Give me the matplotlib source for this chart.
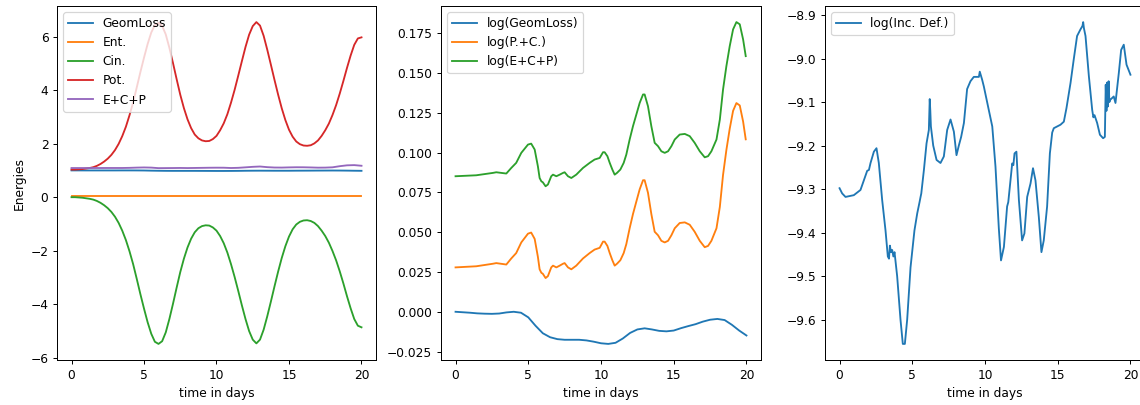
import numpy as np
import matplotlib
matplotlib.use('Agg')
import matplotlib.pyplot as plt

# time grids (days)
t_half = np.linspace(0, 20, 41)
t_quarter = np.linspace(0, 20, 81)

# --- panel 1 : energies ---
geomloss = [1.000, 1.000, 0.999, 0.999, 0.999, 0.999, 0.999, 1.000, 1.000, 0.999,
            0.997, 0.991, 0.987, 0.984, 0.983, 0.983, 0.983, 0.983, 0.982, 0.981,
            0.980, 0.980, 0.981, 0.983, 0.987, 0.989, 0.990, 0.989, 0.988, 0.988,
            0.988, 0.990, 0.991, 0.992, 0.994, 0.995, 0.996, 0.995, 0.992, 0.988,
            0.985]
ent = [0.06, 0.06, 0.06, 0.06, 0.06, 0.06, 0.06, 0.06, 0.06, 0.06,
       0.06, 0.06, 0.06, 0.06, 0.06, 0.06, 0.06, 0.06, 0.06, 0.06,
       0.06, 0.06, 0.06, 0.06, 0.06, 0.06, 0.06, 0.06, 0.06, 0.06,
       0.06, 0.06, 0.06, 0.06, 0.06, 0.06, 0.06, 0.06, 0.06, 0.06,
       0.06]
ecp = [1.089, 1.089, 1.089, 1.090, 1.090, 1.091, 1.091, 1.091, 1.096, 1.105,
       1.111, 1.105, 1.085, 1.087, 1.089, 1.092, 1.088, 1.092, 1.096, 1.100,
       1.102, 1.101, 1.090, 1.097, 1.115, 1.134, 1.146, 1.122, 1.108, 1.106,
       1.113, 1.118, 1.117, 1.111, 1.103, 1.105, 1.116, 1.158, 1.190, 1.198,
       1.174]
cin = [0.00, -0.00, -0.01, -0.02, -0.04, -0.06, -0.09, -0.14, -0.21, -0.30,
       -0.41, -0.55, -0.73, -0.96, -1.25, -1.60, -2.02, -2.50, -3.05, -3.62,
       -4.16, -4.67, -5.10, -5.40, -5.48, -5.38, -5.05, -4.55, -3.98, -3.38,
       -2.80, -2.30, -1.88, -1.55, -1.31, -1.16, -1.08, -1.05, -1.06, -1.13,
       -1.25, -1.45, -1.72, -2.07, -2.50, -2.98, -3.50, -4.04, -4.55, -5.00,
       -5.32, -5.46, -5.32, -4.95, -4.45, -3.90, -3.33, -2.78, -2.27, -1.83,
       -1.47, -1.20, -1.02, -0.92, -0.87, -0.86, -0.89, -0.96, -1.08, -1.25,
       -1.45, -1.70, -2.01, -2.36, -2.77, -3.22, -3.70, -4.15, -4.55, -4.80,
       -4.86]
pot = [1.03, 1.03, 1.04, 1.05, 1.07, 1.09, 1.12, 1.17, 1.24, 1.33,
       1.44, 1.58, 1.76, 1.99, 2.28, 2.63, 3.06, 3.54, 4.10, 4.67,
       5.21, 5.72, 6.15, 6.43, 6.51, 6.40, 6.08, 5.58, 5.01, 4.41,
       3.83, 3.33, 2.91, 2.58, 2.34, 2.20, 2.12, 2.09, 2.10, 2.17,
       2.29, 2.50, 2.76, 3.10, 3.53, 4.01, 4.54, 5.08, 5.61, 6.07,
       6.39, 6.54, 6.41, 6.03, 5.51, 4.95, 4.38, 3.83, 3.32, 2.88,
       2.52, 2.26, 2.08, 1.98, 1.93, 1.92, 1.94, 2.01, 2.12, 2.29,
       2.50, 2.75, 3.07, 3.44, 3.87, 4.34, 4.83, 5.29, 5.69, 5.93,
       5.97]

# --- panel 2 : logs ---
log_geom = [0.0, -0.0003, -0.0006, -0.001, -0.0012, -0.0013, -0.0011, -0.0004, 0.0, -0.0006,
            -0.0035, -0.0088, -0.0135, -0.016, -0.0172, -0.0176, -0.0176, -0.0176, -0.018, -0.0188,
            -0.0198, -0.0202, -0.0195, -0.0168, -0.0133, -0.0111, -0.0104, -0.0111, -0.012, -0.0123,
            -0.0118, -0.0103, -0.009, -0.0078, -0.0062, -0.005, -0.0045, -0.0052, -0.0082, -0.0118,
            -0.0149]
t_log = [0, 1.42, 2.57, 2.8, 3.49, 3.83, 4.17, 4.52, 4.98, 5.2,
         5.44, 5.66, 5.78, 5.9, 6.0, 6.19, 6.35, 6.58, 6.7, 6.93,
         7.16, 7.39, 7.5, 7.73, 7.96, 8.3, 8.76, 9.22, 9.56, 9.91,
         10.14, 10.25, 10.44, 10.6, 10.78, 10.94, 11.1, 11.33, 11.56, 11.74,
         11.97, 12.2, 12.43, 12.66, 12.89, 13.0, 13.23, 13.46, 13.69, 13.92,
         14.15, 14.38, 14.61, 14.84, 15.07, 15.41, 15.76, 16.1, 16.44, 16.79,
         17.13, 17.36, 17.59, 17.94, 18.17, 18.39, 18.62, 18.85, 19.08, 19.31,
         19.54, 19.77, 19.95]
log_pc = [0.0279, 0.0286, 0.0302, 0.0306, 0.0297, 0.0335, 0.0369, 0.0436, 0.0491, 0.0498,
          0.0458, 0.0346, 0.0267, 0.0245, 0.0239, 0.0212, 0.0224, 0.0279, 0.0290, 0.0279,
          0.0290, 0.0302, 0.0306, 0.0279, 0.0267, 0.0290, 0.0335, 0.0369, 0.0391, 0.0402,
          0.0441, 0.0441, 0.0414, 0.0369, 0.0324, 0.0290, 0.0302, 0.0324, 0.0369, 0.0425,
          0.0525, 0.0615, 0.0693, 0.0770, 0.0827, 0.0827, 0.0748, 0.0615, 0.0503, 0.0481,
          0.0446, 0.0436, 0.0446, 0.0481, 0.0525, 0.0558, 0.0562, 0.0547, 0.0503, 0.0446,
          0.0406, 0.0414, 0.0446, 0.0525, 0.0659, 0.0860, 0.1017, 0.1151, 0.1263, 0.1312,
          0.1297, 0.1196, 0.1084]
log_ecp = [0.0852, 0.0858, 0.0873, 0.0877, 0.0869, 0.0904, 0.0936, 0.0999, 0.1051, 0.1057,
           0.1020, 0.0915, 0.0841, 0.0820, 0.0814, 0.0789, 0.0800, 0.0852, 0.0862, 0.0852,
           0.0862, 0.0873, 0.0877, 0.0852, 0.0841, 0.0862, 0.0904, 0.0936, 0.0957, 0.0967,
           0.1003, 0.1003, 0.0978, 0.0936, 0.0894, 0.0862, 0.0873, 0.0894, 0.0936, 0.0988,
           0.1083, 0.1167, 0.1240, 0.1313, 0.1366, 0.1366, 0.1292, 0.1167, 0.1062, 0.1041,
           0.1009, 0.0999, 0.1009, 0.1041, 0.1083, 0.1114, 0.1118, 0.1104, 0.1062, 0.1009,
           0.0971, 0.0978, 0.1009, 0.1083, 0.1208, 0.1397, 0.1544, 0.1670, 0.1775, 0.1821,
           0.1807, 0.1712, 0.1607]

# --- panel 3 : incompressibility defect ---
t_inc = [0, 0.18, 0.41, 0.98, 1.44, 1.67, 1.9, 2.02, 2.13, 2.36,
         2.54, 2.70, 2.93, 3.16, 3.32, 3.40, 3.46, 3.54, 3.62, 3.70,
         3.78, 3.96, 4.19, 4.35, 4.49, 4.65, 4.88, 5.15, 5.34, 5.50,
         5.57, 5.62, 5.8, 5.98, 6.14, 6.2, 6.24, 6.28, 6.44, 6.67,
         6.94, 7.17, 7.4, 7.63, 7.86, 8.04, 8.2, 8.36, 8.55, 8.77,
         9.0, 9.23, 9.58, 9.64, 9.8, 9.92, 10.26, 10.5, 10.72, 10.95,
         11.1, 11.3, 11.52, 11.6, 11.87, 11.95, 12.03, 12.16, 12.33, 12.55,
         12.71, 12.9, 13.13, 13.3, 13.47, 13.7, 13.88, 14.04, 14.27, 14.46,
         14.62, 14.73, 14.96, 15.19, 15.42, 15.6, 15.88, 16.1, 16.33, 16.56,
         16.7, 16.75, 16.8, 16.91, 17.14, 17.37, 17.45, 17.53, 17.71, 17.9,
         18.12, 18.24, 18.3, 18.35, 18.4, 18.45, 18.5, 18.55, 18.6, 18.85,
         18.97, 19.2, 19.36, 19.54, 19.73, 20.0]
log_inc = [-9.298, -9.31, -9.318, -9.314, -9.302, -9.28, -9.258, -9.256, -9.24, -9.214,
           -9.206, -9.24, -9.325, -9.395, -9.455, -9.46, -9.43, -9.445, -9.44, -9.455,
           -9.445, -9.50, -9.60, -9.656, -9.656, -9.60, -9.48, -9.395, -9.356, -9.33,
           -9.318, -9.31, -9.256, -9.195, -9.164, -9.093, -9.12, -9.156, -9.20, -9.233,
           -9.24, -9.225, -9.164, -9.14, -9.168, -9.222, -9.20, -9.18, -9.148, -9.07,
           -9.052, -9.042, -9.042, -9.03, -9.048, -9.064, -9.118, -9.156, -9.248, -9.39,
           -9.464, -9.433, -9.34, -9.33, -9.241, -9.245, -9.218, -9.214, -9.325, -9.418,
           -9.402, -9.318, -9.287, -9.252, -9.28, -9.364, -9.445, -9.418, -9.34, -9.218,
           -9.17, -9.16, -9.156, -9.152, -9.145, -9.114, -9.056, -9.002, -8.948, -8.933,
           -8.925, -8.916, -8.93, -8.948, -9.04, -9.118, -9.135, -9.13, -9.148, -9.175,
           -9.183, -9.18, -9.06, -9.12, -9.055, -9.11, -9.052, -9.10, -9.095, -9.087,
           -9.102, -9.033, -8.98, -8.968, -9.014, -9.037]

dpi = 88.5
fig = plt.figure(figsize=(1140 / dpi, 405 / dpi), dpi=dpi)
ax1 = fig.add_axes([57 / 1140, 45 / 405, 319 / 1140, 354 / 405])
ax2 = fig.add_axes([441 / 1140, 45 / 405, 320 / 1140, 354 / 405])
ax3 = fig.add_axes([825 / 1140, 45 / 405, 320 / 1140, 354 / 405])

ax1.plot(t_half, geomloss, label='GeomLoss')
ax1.plot(t_half, ent, label='Ent.')
ax1.plot(t_quarter, cin, label='Cin.')
ax1.plot(t_quarter, pot, label='Pot.')
ax1.plot(t_half, ecp, label='E+C+P')
ax1.set_xlabel('time in days')
ax1.set_ylabel('Energies')
ax1.legend(loc='upper left')

ax2.plot(t_half, log_geom, label='log(GeomLoss)')
ax2.plot(t_log, log_pc, label='log(P.+C.)')
ax2.plot(t_log, log_ecp, label='log(E+C+P)')
ax2.set_xlabel('time in days')
ax2.legend(loc='upper left')

ax3.plot(t_inc, log_inc, label='log(Inc. Def.)')
ax3.set_xlabel('time in days')
ax3.legend(loc='upper left')

fig.savefig('out.png', dpi=dpi)
